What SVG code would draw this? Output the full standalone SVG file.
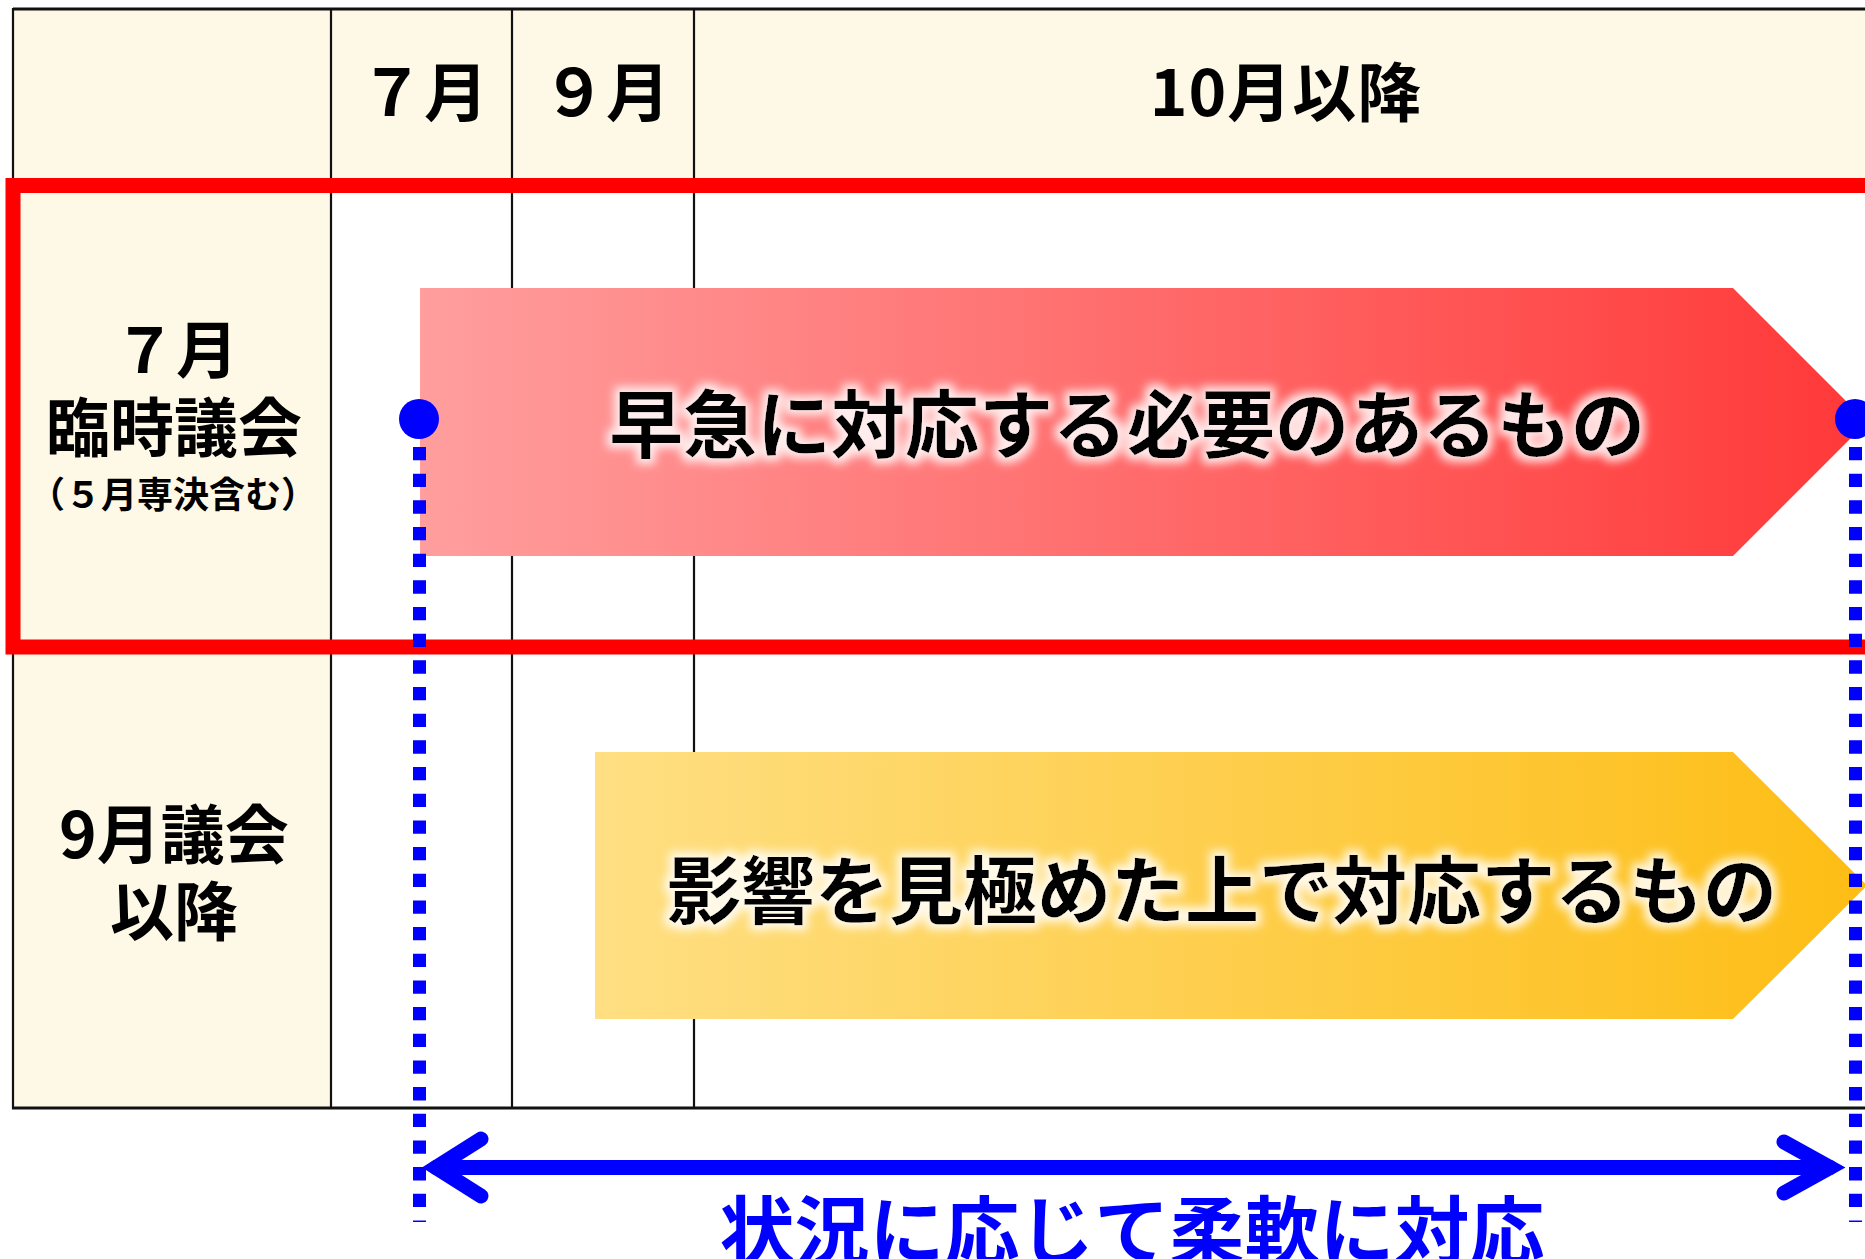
<svg xmlns="http://www.w3.org/2000/svg" width="1865" height="1259" viewBox="0 0 1865 1259">
<style>
  text { font-family: "Noto Sans CJK JP", "Noto Sans CJK SC", sans-serif; font-weight: bold; text-anchor: middle; dominant-baseline: central; }
  .hdr { font-size: 64px; fill: #000; }
  .lbl { font-size: 64px; fill: #000; }
  .sub { font-size: 36px; fill: #000; }
  .bartxt { font-size: 74px; fill: #000; }
  .grid { stroke: #111; stroke-width: 2.2; fill: none; }
  .beige { fill: #FEF8E6; }
  .dot { stroke: #0000FF; stroke-width: 13; stroke-dasharray: 13.3 13.37; fill: none; }
  .arr { stroke: #0000FF; stroke-width: 15; fill: none; stroke-linecap: round; stroke-linejoin: miter; stroke-miterlimit: 10; }
</style>
<defs>
  <linearGradient id="gRed" x1="0" y1="0" x2="1" y2="0">
    <stop offset="0" stop-color="#FF9E9E"/>
    <stop offset="1" stop-color="#FF3838"/>
  </linearGradient>
  <linearGradient id="gYel" x1="0" y1="0" x2="1" y2="0">
    <stop offset="0" stop-color="#FFDF83"/>
    <stop offset="1" stop-color="#FDBD14"/>
  </linearGradient>
  <filter id="glow" x="-5%" y="-40%" width="110%" height="180%">
    <feMorphology in="SourceAlpha" operator="dilate" radius="5" result="d"/>
    <feGaussianBlur in="d" stdDeviation="5" result="b"/>
    <feFlood flood-color="#FFFFFF" flood-opacity="0.85"/>
    <feComposite in2="b" operator="in" result="g"/>
    <feMerge><feMergeNode in="g"/><feMergeNode in="SourceGraphic"/></feMerge>
  </filter>
</defs>
<rect x="0" y="0" width="1865" height="1259" fill="#FFFFFF"/>

<g id="table">
  <rect class="beige" x="13" y="9" width="1870" height="176"/>
  <rect class="beige" x="13" y="185" width="318" height="923"/>
  <line class="grid" x1="13" y1="9" x2="1880" y2="9" style="stroke-width:3"/>
  <line class="grid" x1="13" y1="185" x2="1880" y2="185"/>
  <line class="grid" x1="13" y1="647" x2="1880" y2="647"/>
  <line class="grid" x1="12" y1="1108" x2="1880" y2="1108" style="stroke-width:3"/>
  <line class="grid" x1="13" y1="8" x2="13" y2="1109"/>
  <line class="grid" x1="331" y1="8" x2="331" y2="1109"/>
  <line class="grid" x1="512" y1="8" x2="512" y2="1109"/>
  <line class="grid" x1="694" y1="8" x2="694" y2="1109"/>
</g>

<g id="header-7">
  <text class="hdr" x="424" y="88">７月</text>
</g>
<g id="header-9">
  <text class="hdr" x="606" y="88">９月</text>
</g>
<g id="header-10">
  <text class="hdr" x="1286" y="88" letter-spacing="1">10月以降</text>
</g>

<g id="row-july">
  <text class="lbl" x="176" y="346" style="font-size:62px">７月</text>
  <text class="lbl" x="174" y="423">臨時議会</text>
  <text class="sub" x="173" y="492">（５月専決含む）</text>
</g>
<g id="row-sept">
  <text class="lbl" x="174" y="830">9月議会</text>
  <text class="lbl" x="174" y="907">以降</text>
</g>

<g id="bar-urgent">
  <polygon points="420,288 1733,288 1867,422 1733,556 420,556" fill="url(#gRed)"/>
  <text class="bartxt" x="1127" y="419" filter="url(#glow)">早急に対応する必要のあるもの</text>
</g>
<g id="bar-later">
  <polygon points="595,752 1733,752 1867,885.5 1733,1019 595,1019" fill="url(#gYel)"/>
  <text class="bartxt" x="1222" y="885" filter="url(#glow)">影響を見極めた上で対応するもの</text>
</g>

<g id="highlight-frame">
  <rect x="13" y="185.5" width="1880" height="461.5" fill="none" stroke="#FF0000" stroke-width="15"/>
</g>

<g id="connectors">
  <line class="dot" x1="419.5" y1="447" x2="419.5" y2="1222"/>
  <line class="dot" x1="1855.5" y1="447" x2="1855.5" y2="1222"/>
  <line class="arr" x1="436" y1="1167.5" x2="1830" y2="1167.5" stroke-linecap="butt"/>
  <polyline class="arr" points="481,1139 436,1167.5 481,1196"/>
  <polyline class="arr" points="1784,1142 1830,1167.5 1784,1193"/>
</g>

<g id="marker-start">
  <circle cx="419" cy="419" r="20" fill="#0000FF"/>
</g>
<g id="marker-end">
  <circle cx="1855" cy="419" r="20" fill="#0000FF"/>
</g>

<g id="flex-label">
  <text x="1132" y="1226" style="font-size:75px; fill:#0000FF">状況に応じて柔軟に対応</text>
</g>
</svg>
